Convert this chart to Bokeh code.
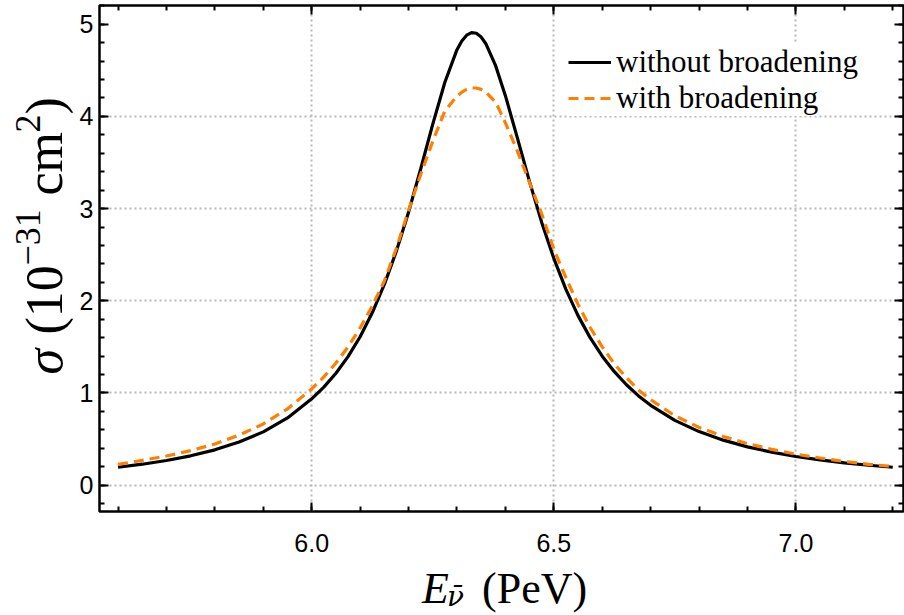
from math import pi
from bokeh.plotting import figure
from bokeh.layouts import row, column
from bokeh.core.properties import value
from bokeh.models import (ColumnDataSource, FixedTicker, LinearAxis, Legend,
                          LegendItem, NumeralTickFormatter, Range1d,
                          CustomJSTickFormatter)
from bokeh.embed import file_html
from bokeh.resources import INLINE

# ---- data ----
energy_pev = [5.60, 5.65, 5.70, 5.75, 5.80, 5.85, 5.90, 5.95,
              6.00, 6.025, 6.05, 6.075, 6.10, 6.125, 6.15, 6.175,
              6.20, 6.225, 6.25, 6.275, 6.30, 6.31, 6.32, 6.33,
              6.34, 6.35, 6.36, 6.38, 6.40, 6.425, 6.45, 6.475,
              6.50, 6.525, 6.55, 6.575, 6.60, 6.625, 6.65, 6.675,
              6.70, 6.75, 6.80, 6.85, 6.90, 6.95, 7.00, 7.05,
              7.10, 7.15, 7.20]

sigma_without = [0.194, 0.227, 0.267, 0.318, 0.383, 0.467, 0.578, 0.729,
                 0.936, 1.063, 1.214, 1.394, 1.610, 1.869, 2.177, 2.541,
                 2.961, 3.429, 3.916, 4.371, 4.724, 4.818, 4.881, 4.909,
                 4.902, 4.860, 4.785, 4.547, 4.225, 3.762, 3.290, 2.850,
                 2.460, 2.124, 1.839, 1.600, 1.399, 1.231, 1.089, 0.968,
                 0.866, 0.703, 0.581, 0.488, 0.415, 0.358, 0.311, 0.274,
                 0.242, 0.216, 0.194]

sigma_with = [0.225, 0.269, 0.316, 0.374, 0.447, 0.542, 0.664, 0.827,
              1.044, 1.174, 1.325, 1.500, 1.705, 1.943, 2.215, 2.570,
              2.980, 3.370, 3.730, 4.060, 4.220, 4.262, 4.293, 4.308,
              4.308, 4.293, 4.262, 4.154, 3.930, 3.620, 3.280, 2.940,
              2.560, 2.250, 1.960, 1.710, 1.500, 1.315, 1.165, 1.033,
              0.926, 0.753, 0.626, 0.528, 0.450, 0.388, 0.336, 0.294,
              0.257, 0.226, 0.202]

x_major = [6.0, 6.5, 7.0]
x_minor = [5.6, 5.7, 5.8, 5.9, 6.0, 6.1, 6.2, 6.3, 6.4, 6.5, 6.6, 6.7,
           6.8, 6.9, 7.0, 7.1, 7.2]
y_major = [0, 1, 2, 3, 4, 5]
y_minor = [-0.2, 0.0, 0.2, 0.4, 0.6, 0.8, 1.0, 1.2, 1.4, 1.6, 1.8, 2.0,
           2.2, 2.4, 2.6, 2.8, 3.0, 3.2, 3.4, 3.6, 3.8, 4.0, 4.2, 4.4,
           4.6, 4.8, 5.0, 5.2]
y_grid = [0, 1, 2, 3, 4]
legend_labels = ["without broadening", "with broadening"]

SERIF = "Liberation Serif"
TICK_FONT = "Liberation Sans"

# ---- main figure (page x 76..904, page y 0..565) ----
p = figure(width=828, height=565, output_backend="svg", toolbar_location=None,
           x_range=Range1d(5.5617, 7.2222), y_range=Range1d(-0.286, 5.203),
           min_border_left=20, min_border_right=1, min_border_top=5,
           min_border_bottom=54, background_fill_color="white",
           border_fill_color="white")
p.outline_line_color = "black"
p.outline_line_width = 2.5
p.outline_line_alpha = 1.0

src = ColumnDataSource(dict(e=energy_pev, s0=sigma_without, s1=sigma_with))
r0 = p.line("e", "s0", source=src, line_color="black", line_width=3.2)
r1 = p.line("e", "s1", source=src, line_color="#ff8000", line_width=3.2,
            line_dash="10 6")


def style_axis(ax, show_labels):
    ax.axis_line_color = None
    ax.major_tick_in = 9
    ax.major_tick_out = 0
    ax.minor_tick_in = 5
    ax.minor_tick_out = 0
    ax.major_tick_line_width = 2
    ax.minor_tick_line_width = 2
    ax.major_tick_line_color = "black"
    ax.minor_tick_line_color = "black"
    if show_labels:
        ax.major_label_text_font = TICK_FONT
        ax.major_label_text_font_size = "25px"
        ax.major_label_text_color = "black"
    else:
        ax.formatter = CustomJSTickFormatter(code="return ''")
        ax.major_label_text_font_size = "1px"
        ax.major_label_standoff = 0


xb = p.xaxis[0]
xb.ticker = FixedTicker(ticks=x_major, minor_ticks=x_minor)
xb.formatter = NumeralTickFormatter(format="0.0")
style_axis(xb, True)
xb.major_label_standoff = 22

yl = p.yaxis[0]
yl.ticker = FixedTicker(ticks=y_major, minor_ticks=y_minor)
style_axis(yl, True)
yl.major_label_standoff = 6

xt = LinearAxis(ticker=FixedTicker(ticks=x_major, minor_ticks=x_minor))
style_axis(xt, False)
p.add_layout(xt, "above")
yr = LinearAxis(ticker=FixedTicker(ticks=y_major, minor_ticks=y_minor))
style_axis(yr, False)
p.add_layout(yr, "right")

p.xgrid.ticker = FixedTicker(ticks=x_major)
p.ygrid.ticker = FixedTicker(ticks=y_grid)
for g in (p.xgrid[0], p.ygrid[0]):
    g.grid_line_color = "#b8b8b8"
    g.grid_line_width = 2
    g.grid_line_dash = "2 3"


def one_legend(label, rend, loc):
    return Legend(items=[LegendItem(label=label, renderers=[rend])],
                  location=loc, orientation="vertical",
                  label_text_font=SERIF, label_text_font_size="31px",
                  label_text_color="black", glyph_width=43, glyph_height=20,
                  label_standoff=5, spacing=0, padding=2, margin=0,
                  border_line_color=None, background_fill_color="white",
                  background_fill_alpha=1.0)


p.add_layout(one_legend(legend_labels[0], r0, (469, 431)), "center")
p.add_layout(one_legend(legend_labels[1], r1, (469, 395)), "center")


def blank_fig(w, h, xr, yr_):
    f = figure(width=w, height=h, output_backend="svg", toolbar_location=None,
               x_range=Range1d(*xr), y_range=Range1d(*yr_),
               x_axis_type=None, y_axis_type=None, min_border=0,
               background_fill_color="white", border_fill_color="white")
    f.outline_line_color = None
    f.grid.visible = False
    return f


def put(f, x, y, text, size, style="normal", angle=0.0, font=SERIF):
    f.text(x=[x], y=[y], text=[text], angle=angle,
           text_font=value(font), text_font_size=value(size),
           text_font_style=style, text_color="black",
           text_align="left", text_baseline="middle")


# ---- y title panel (page x 0..76); y data = 615 - page y ----
p_y = blank_fig(76, 615, (0, 76), (0, 615))
put(p_y, 44, 241, "\u03c3", "52px", "italic", pi / 2)
put(p_y, 44, 281, "(10", "52px", "normal", pi / 2)
put(p_y, 27, 350, "\u221231", "36px", "normal", pi / 2)
put(p_y, 44, 420, "cm", "52px", "normal", pi / 2)
put(p_y, 27, 483, "2", "36px", "normal", pi / 2)
put(p_y, 44, 501, ")", "52px", "normal", pi / 2)

# ---- x title panel (page x 76..904, page y 565..615) ----
p_x = blank_fig(828, 50, (76, 904), (0, 50))
put(p_x, 408, 27, "E", "44px", "italic")
put(p_x, 434, 19, "\u03bd\u0304", "28px", "italic", font="DejaVu Serif")
put(p_x, 470, 27, "(PeV)", "44px")

layout = row(p_y, column(p, p_x, spacing=0), spacing=0)

open("out.html", "w").write(file_html(layout, INLINE))
